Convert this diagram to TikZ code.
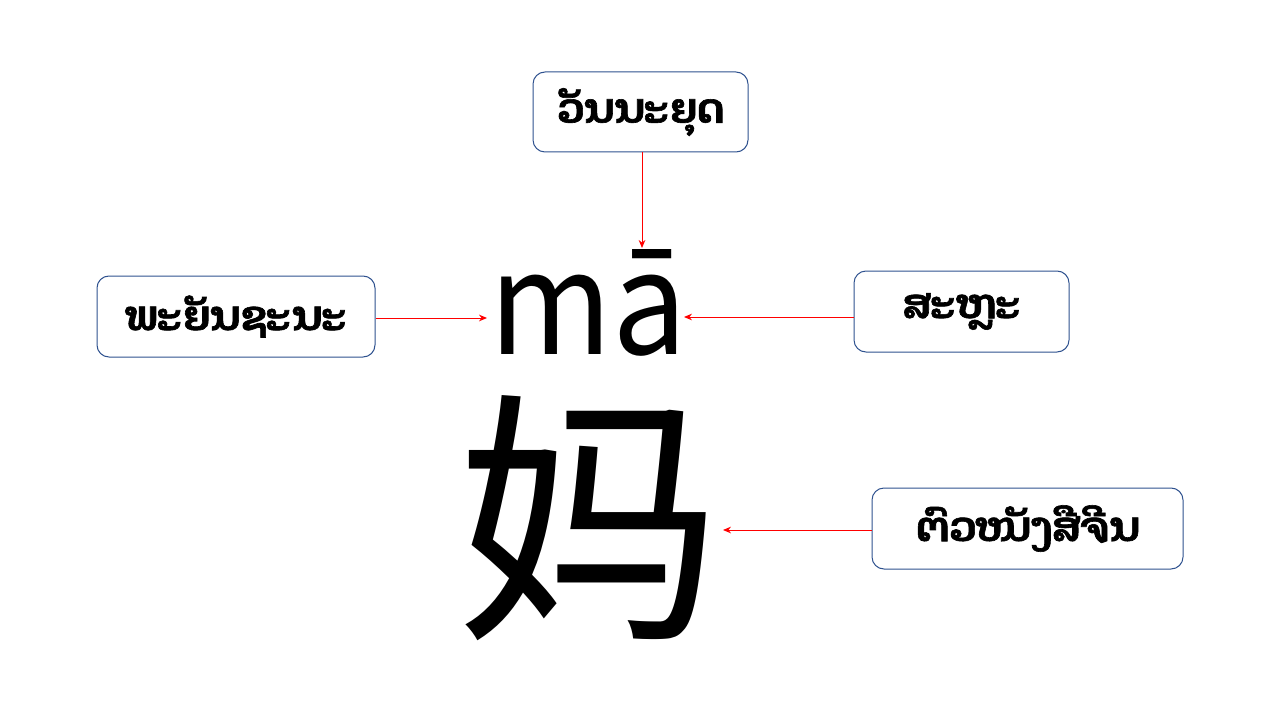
\documentclass[tikz,border=0pt]{standalone}
\usepackage{fontspec}
\usetikzlibrary{arrows.meta}
\newfontfamily\laofont[Script=Lao,FakeBold=1.5]{Dhyana}
\newfontfamily\cjkfont{Noto Sans CJK SC}
\definecolor{boxblue}{HTML}{2F528F}
\tikzset{
  labelbox/.style={draw=boxblue, line width=0.75pt, rounded corners=9pt, fill=white,
    inner sep=0pt, font=\laofont\bfseries\fontsize{31}{36}\selectfont},
  pointer/.style={draw=red, line width=0.75pt, -{Stealth[length=6pt,width=5pt]}}
}
\begin{document}
\begin{tikzpicture}[x=0.75pt,y=-0.75pt]
\useasboundingbox (0,0) rectangle (1280,720);
\node[labelbox, minimum width=161.25pt, minimum height=60pt] (top) at (640.5,112) {ວັນນະຍຸດ};
\node[labelbox, minimum width=208.5pt, minimum height=60.75pt] (left) at (236,316.5) {ພະຍັນຊະນະ};
\node[labelbox, minimum width=161.25pt, minimum height=60.75pt] (right) at (961.5,311.5) {ສະຫຼະ};
\node[labelbox, minimum width=233.25pt, minimum height=60.75pt] (char) at (1027.5,528.5) {ຕົວໜັງສືຈີນ};
\node[font=\cjkfont\fontsize{107}{110}\selectfont, inner sep=0pt, anchor=base] (pinyin) at (588.5,354) {\scalebox{0.93}[1]{mā}};
\node[font=\cjkfont\fontsize{200}{210}\selectfont, inner sep=0pt] (hanzi) at (589,518) {妈};
\coordinate (pt) at (642,248);
\coordinate (pl) at (487,318);
\coordinate (pr) at (684,317);
\coordinate (pc) at (723,530);
\draw[pointer] (top.south -| pt) -- (pt);
\draw[pointer] (left.east |- pl) -- (pl);
\draw[pointer] (right.west |- pr) -- (pr);
\draw[pointer] (char.west |- pc) -- (pc);
\end{tikzpicture}
\end{document}
